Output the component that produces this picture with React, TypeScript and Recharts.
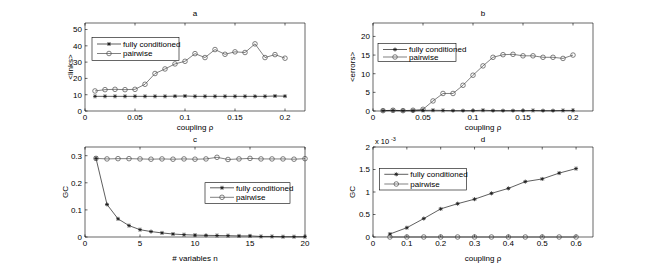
import React from 'react';
import { LineChart, Line, XAxis, YAxis } from 'recharts';

const W = 654;
const H = 267;
const FONT = '"Liberation Sans", Arial, Helvetica, sans-serif';

// panel a / b : coupling rho
const couplingAB = [0.01, 0.02, 0.03, 0.04, 0.05, 0.06, 0.07, 0.08, 0.09, 0.1, 0.11, 0.12, 0.13, 0.14, 0.15, 0.16, 0.17, 0.18, 0.19, 0.2];
const linksFull = [9.0, 9.0, 9.0, 9.0, 9.0, 9.0, 9.0, 9.0, 9.1, 9.2, 9.0, 9.0, 9.0, 9.0, 9.0, 9.0, 9.0, 9.0, 9.2, 9.1];
const linksPair = [12.3, 13.1, 13.3, 13.1, 13.3, 16.4, 23.0, 25.8, 28.9, 30.5, 35.2, 32.8, 37.7, 34.8, 36.3, 35.9, 41.2, 32.8, 34.6, 32.4];
const errorsFull = [0.1, 0.15, 0.1, 0.1, 0.15, 0.2, 0.15, 0.1, 0.1, 0.1, 0.2, 0.1, 0.1, 0.1, 0.1, 0.15, 0.1, 0.1, 0.15, 0.15];
const errorsPair = [0.1, 0.2, 0.1, 0.2, 0.45, 2.7, 4.7, 4.7, 6.9, 9.6, 12.1, 14.4, 15.1, 15.2, 14.8, 14.8, 14.4, 14.4, 14.1, 15.0];

// panel c : number of variables
const nVars = [1, 2, 3, 4, 5, 6, 7, 8, 9, 10, 11, 12, 13, 14, 15, 16, 17, 18, 19, 20];
const gcNFull = [0.29, 0.12, 0.067, 0.042, 0.027, 0.02, 0.015, 0.011, 0.0085, 0.007, 0.006, 0.0055, 0.005, 0.004, 0.004, 0.002, 0.002, 0.001, 0.001, 0.001];
const gcNPair = [0.29, 0.288, 0.289, 0.289, 0.288, 0.287, 0.288, 0.287, 0.288, 0.287, 0.288, 0.294, 0.286, 0.288, 0.29, 0.288, 0.288, 0.288, 0.287, 0.289];

// panel d : coupling rho
const couplingD = [0.05, 0.1, 0.15, 0.2, 0.25, 0.3, 0.35, 0.4, 0.45, 0.5, 0.55, 0.6];
const gcPFull = [0.000066, 0.000206, 0.00041, 0.000625, 0.00074, 0.00084, 0.00097, 0.00108, 0.00123, 0.00129, 0.00142, 0.00152];
const gcPPair = [0, 0, 0, 0, 0, 0, 0, 0, 0, 0, 0, 0];

const ticksRhoAB = [0, 0.05, 0.1, 0.15, 0.2];
const ticksLinks = [0, 10, 20, 30, 40, 50];
const ticksErrors = [0, 5, 10, 15, 20];
const ticksN = [0, 5, 10, 15, 20];
const ticksGcN = [0, 0.1, 0.2, 0.3];
const ticksRhoD = [0, 0.1, 0.2, 0.3, 0.4, 0.5, 0.6];
const ticksGcP = [0, 0.0005, 0.001, 0.0015, 0.002];

const rows = (xs: number[], full: number[], pair: number[]) =>
  xs.map((x, i) => ({ x, full: full[i], pair: pair[i] }));

const FULL_COLOR = '#1a1a1a';
const PAIR_COLOR = '#4a4a4a';

const Star = ({ cx, cy }: any) => {
  const r = 2;
  const d = r * 0.72;
  return (
    <g stroke={FULL_COLOR} strokeWidth={0.8}>
      <line x1={cx - r} y1={cy} x2={cx + r} y2={cy} />
      <line x1={cx} y1={cy - r} x2={cx} y2={cy + r} />
      <line x1={cx - d} y1={cy - d} x2={cx + d} y2={cy + d} />
      <line x1={cx - d} y1={cy + d} x2={cx + d} y2={cy - d} />
    </g>
  );
};

const Ring = ({ cx, cy }: any) => (
  <circle cx={cx} cy={cy} r={2.3} fill="none" stroke={PAIR_COLOR} strokeWidth={0.7} />
);

type Box = { L: number; T: number; R: number; B: number };

const tickStyle = { fontSize: 8, fill: '#000', fontFamily: FONT };
const blank = () => '';

function Panel({ box, data, xDomain, xTicks, yDomain, yTicks, yFmt }: any) {
  const b: Box = box;
  const margin = { left: b.L - 40, right: W - b.R - 1, top: b.T - 1, bottom: H - b.B - 20 };
  return (
    <div style={{ position: 'absolute', left: 0, top: 0 }}>
      <LineChart width={W} height={H} data={data} margin={margin}>
        <XAxis xAxisId="b" dataKey="x" type="number" domain={xDomain} ticks={xTicks} interval={0}
          height={20} tickSize={-2.5} tickMargin={6} stroke="#000" strokeWidth={0.6} tick={tickStyle} />
        <XAxis xAxisId="t" orientation="top" dataKey="x" type="number" domain={xDomain} ticks={xTicks} interval={0}
          height={1} tickSize={-2.5} stroke="#000" strokeWidth={0.6} tickFormatter={blank} />
        <YAxis yAxisId="l" type="number" domain={yDomain} ticks={yTicks} interval={0} width={40}
          tickSize={-2.5} tickMargin={5.5} stroke="#000" strokeWidth={0.6} tick={tickStyle} tickFormatter={yFmt} />
        <YAxis yAxisId="r" orientation="right" type="number" domain={yDomain} ticks={yTicks} interval={0} width={1}
          tickSize={-2.5} stroke="#000" strokeWidth={0.6} tickFormatter={blank} />
        <Line xAxisId="b" yAxisId="l" dataKey="pair" stroke={PAIR_COLOR} strokeWidth={0.7}
          isAnimationActive={false} dot={(p: any) => <Ring key={'p' + p.index} cx={p.cx} cy={p.cy} />} />
        <Line xAxisId="b" yAxisId="l" dataKey="full" stroke={FULL_COLOR} strokeWidth={0.7}
          isAnimationActive={false} dot={(p: any) => <Star key={'f' + p.index} cx={p.cx} cy={p.cy} />} />
      </LineChart>
    </div>
  );
}

function LegendBox({ x, y, w, h, r1, r2 }: any) {
  const lx1 = x + 5;
  const lx2 = x + 29;
  const mx = x + 17;
  const tx = x + 31;
  return (
    <g>
      <rect x={x} y={y} width={w} height={h} fill="#fff" stroke="#000" strokeWidth={0.6} />
      <line x1={lx1} y1={r1} x2={lx2} y2={r1} stroke={FULL_COLOR} strokeWidth={0.7} />
      <Star cx={mx} cy={r1} />
      <text x={tx} y={r1 + 2.8} fontSize={8}>fully conditioned</text>
      <line x1={lx1} y1={r2} x2={lx2} y2={r2} stroke={PAIR_COLOR} strokeWidth={0.7} />
      <Ring cx={mx} cy={r2} />
      <text x={tx} y={r2 + 2.8} fontSize={8}>pairwise</text>
    </g>
  );
}

const boxA = { L: 85, T: 23, R: 305, B: 111 };
const boxB = { L: 373, T: 23, R: 593, B: 111 };
const boxC = { L: 85, T: 147, R: 305, B: 237 };
const boxD = { L: 373, T: 147, R: 593, B: 237 };

const fmtNum = (v: number) => String(+v.toFixed(4));
const fmtMilli = (v: number) => String(+(v * 1000).toFixed(2));

export default function App() {
  return (
    <div style={{ position: 'absolute', left: 0, top: 0, width: W, height: H, background: '#fff', fontFamily: FONT }}>
      <Panel box={boxA} data={rows(couplingAB, linksFull, linksPair)} xDomain={[0, 0.22]} xTicks={ticksRhoAB}
        yDomain={[0, 54]} yTicks={ticksLinks} yFmt={fmtNum} />
      <Panel box={boxB} data={rows(couplingAB, errorsFull, errorsPair)} xDomain={[0, 0.22]} xTicks={ticksRhoAB}
        yDomain={[0, 23.6]} yTicks={ticksErrors} yFmt={fmtNum} />
      <Panel box={boxC} data={rows(nVars, gcNFull, gcNPair)} xDomain={[0, 20]} xTicks={ticksN}
        yDomain={[0, 0.332]} yTicks={ticksGcN} yFmt={fmtNum} />
      <Panel box={boxD} data={rows(couplingD, gcPFull, gcPPair)} xDomain={[0, 0.65]} xTicks={ticksRhoD}
        yDomain={[0, 0.002]} yTicks={ticksGcP} yFmt={fmtMilli} />
      <svg width={W} height={H} style={{ position: 'absolute', left: 0, top: 0 }} fontFamily={FONT} fill="#000">
        <text x={195} y={15.5} fontSize={8} textAnchor="middle">a</text>
        <text x={483} y={15.5} fontSize={8} textAnchor="middle">b</text>
        <text x={195} y={141.5} fontSize={8} textAnchor="middle">c</text>
        <text x={483} y={141.5} fontSize={8} textAnchor="middle">d</text>

        <text x={195} y={130} fontSize={8} textAnchor="middle">coupling ρ</text>
        <text x={483} y={130} fontSize={8} textAnchor="middle">coupling ρ</text>
        <text x={195} y={260.5} fontSize={8} textAnchor="middle"># variables n</text>
        <text x={483} y={260.5} fontSize={8} textAnchor="middle">coupling ρ</text>

        <text transform="translate(72.5,67) rotate(-90)" fontSize={8} textAnchor="middle">&lt;links&gt;</text>
        <text transform="translate(355,67) rotate(-90)" fontSize={8} textAnchor="middle">&lt;errors&gt;</text>
        <text transform="translate(67.5,192) rotate(-90)" fontSize={8} textAnchor="middle">GC</text>
        <text transform="translate(355,192) rotate(-90)" fontSize={8} textAnchor="middle">GC</text>

        <text x={375} y={144} fontSize={7.5}>x 10</text>
        <text x={391} y={140.5} fontSize={5.5}>-3</text>

        <LegendBox x={92} y={37.5} w={87} h={23} r1={44} r2={53.5} />
        <LegendBox x={378} y={43.3} w={78} h={18} r1={49.5} r2={57} />
        <LegendBox x={205} y={182.7} w={85} h={20.6} r1={187.8} r2={197.3} />
        <LegendBox x={379.3} y={168.3} w={87.4} h={21.7} r1={174.3} r2={184} />
      </svg>
    </div>
  );
}
